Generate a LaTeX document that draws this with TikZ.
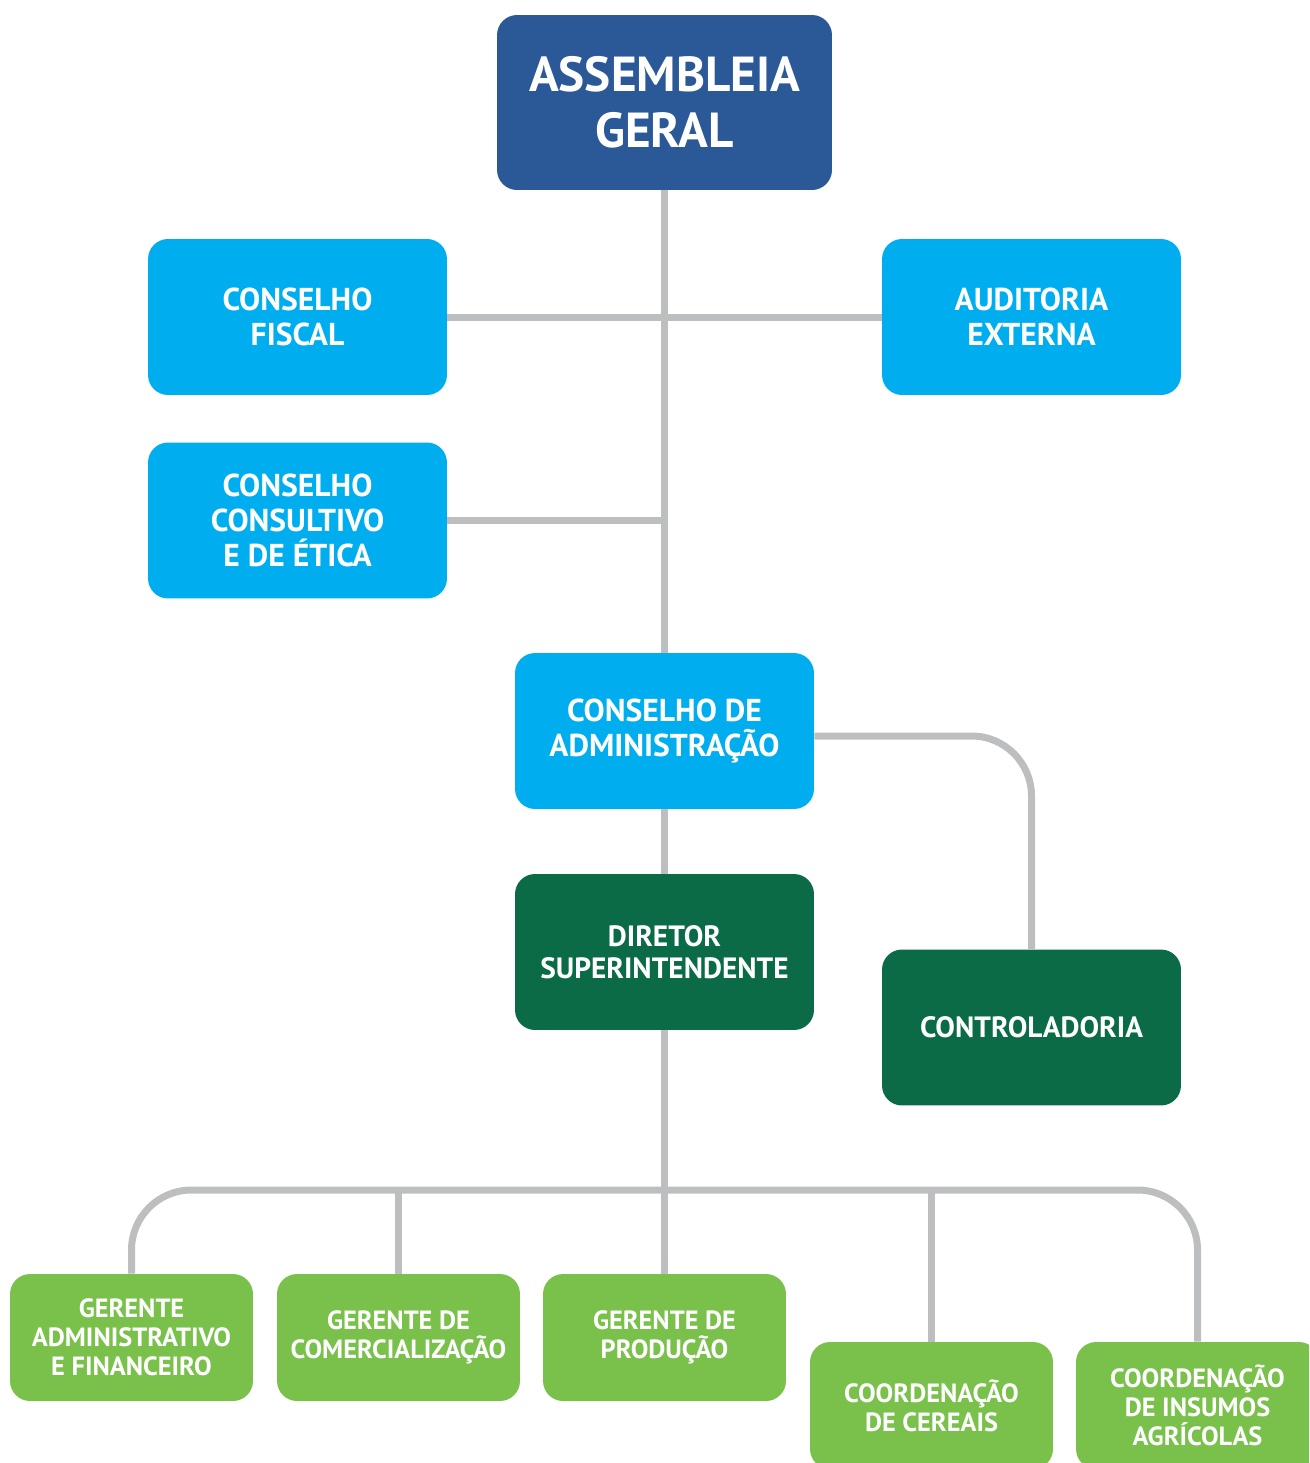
\documentclass[tikz,border=0pt]{standalone}
\usepackage{fontspec}
\setmainfont{PT Sans}
\usetikzlibrary{positioning}

\definecolor{assembleiablue}{HTML}{2B5896}
\definecolor{conselhocyan}{HTML}{00AEEF}
\definecolor{diretorgreen}{HTML}{0A6B46}
\definecolor{gerentegreen}{HTML}{7AC14C}
\definecolor{linkgray}{HTML}{BDBEC0}

\tikzset{
  box/.style={rounded corners=0.4cm, text=white, align=center, inner sep=0pt,
    font=\bfseries\fontsize{17}{20}\selectfont},
  topbox/.style={box, fill=assembleiablue, minimum width=6.7cm, minimum height=3.5cm,
    font=\bfseries\fontsize{28}{32}\selectfont},
  cyanbox/.style={box, fill=conselhocyan, minimum width=5.98cm, minimum height=3.12cm,
    font=\bfseries\fontsize{18}{20}\selectfont},
  darkbox/.style={box, fill=diretorgreen, minimum width=5.98cm, minimum height=3.12cm,
    font=\bfseries\fontsize{16.7}{18.5}\selectfont},
  lightbox/.style={box, fill=gerentegreen, minimum width=4.86cm, minimum height=2.54cm,
    font=\bfseries\fontsize{15}{16.5}\selectfont},
  link/.style={draw=linkgray, line width=0.14cm}
}

\begin{document}
\begin{tikzpicture}[x=0.02cm, y=-0.02cm]
    \useasboundingbox (0,0) rectangle (1309,1463);
    \clip (0,0) rectangle (1309,1463);

    \node (assembleia) at (664.5,102.5) [topbox] {ASSEMBLEIA\\GERAL};
    \node (fiscal) at (297.5,317) [cyanbox] {CONSELHO\\FISCAL};
    \node (auditoria) at (1031.5,317) [cyanbox] {AUDITORIA\\EXTERNA};
    \node (consultivo) at (297.5,520.5) [cyanbox] {CONSELHO\\CONSULTIVO\\E DE ÉTICA};
    \node (admin) at (664.5,731) [cyanbox] {CONSELHO DE\\ADMINISTRAÇÃO};
    \node (diretor) at (664.5,952) [darkbox] {DIRETOR\\SUPERINTENDENTE};
    \node (controladoria) at (1031.5,1027.5) [darkbox] {CONTROLADORIA};

    \node (gadm) at (131.5,1337.5) [lightbox] {GERENTE\\ADMINISTRATIVO\\E FINANCEIRO};
    \node (gcom) at (398.5,1337.5) [lightbox] {GERENTE DE\\COMERCIALIZAÇÃO};
    \node (gprod) at (664.5,1337.5) [lightbox] {GERENTE DE\\PRODUÇÃO};
    \node (cereais) at (931.5,1405.5) [lightbox] {COORDENAÇÃO\\DE CEREAIS};
    \node (insumos) at (1197.5,1405.5) [lightbox] {COORDENAÇÃO\\DE INSUMOS\\AGRÍCOLAS};

    \coordinate (bus) at (664.5,1190);

    % upper part
    \draw[link] (assembleia.south) -- (admin.north);
    \draw[link] (fiscal.east) -- (auditoria.west);
    \draw[link] (consultivo.east) -- (consultivo.east -| assembleia.south);
    \draw[link] (admin.south) -- (diretor.north);
    \draw[link, rounded corners=1.2cm] ([yshift=-0.1cm]admin.east) -| (controladoria.north);

    % lower part
    \draw[link] (diretor.south) -- (gprod.north);
    \draw[link, rounded corners=1.2cm] (gadm.north) |- (bus) -| (insumos.north);
    \draw[link] (gcom.north) -- (gcom.north |- bus);
    \draw[link] (cereais.north) -- (cereais.north |- bus);
\end{tikzpicture}
\end{document}
